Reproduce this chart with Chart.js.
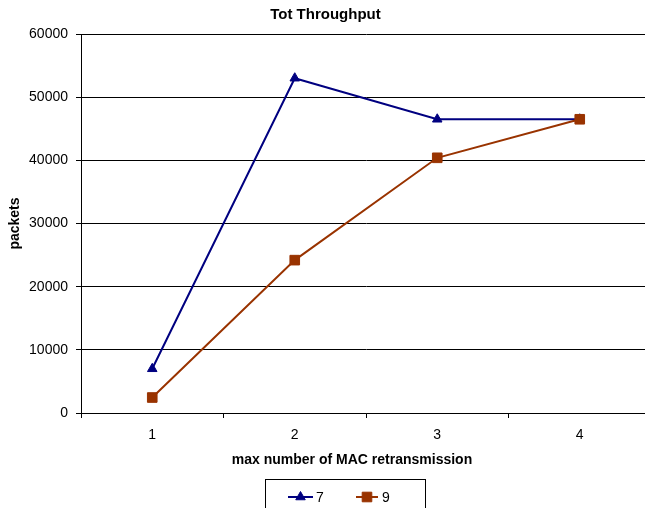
<!DOCTYPE html>
<html><head><meta charset="utf-8">
<script src="https://cdn.jsdelivr.net/npm/chart.js@4/dist/chart.umd.min.js"></script>
<style>
html,body{margin:0;padding:0;overflow:hidden;background:#fff;width:645px;height:508px}
#wrap{position:absolute;left:0;top:0;width:662px;height:508px}
</style>
</head><body><div id="wrap"><canvas id="c" width="662" height="508"></canvas></div>
<script>
const chartTitle = 'Tot Throughput';
const xTitle = 'max number of MAC retransmission';
const yTitle = 'packets';
const categories = ['1', '2', '3', '4'];
const seriesNames = ['7', '9'];
const series7 = [7000, 53000, 46500, 46500];
const series9 = [2450, 24200, 40400, 46500];
const yMin = 0, yMax = 60000, yStep = 10000;

const FONT = "'Liberation Sans', Arial, Helvetica, sans-serif";
Chart.defaults.font.family = FONT;
Chart.defaults.color = '#000';

const customPlugin = {
  id: 'custom',
  afterDraw(chart) {
    const ctx = chart.ctx;
    ctx.save();
    ctx.fillStyle = '#000';
    ctx.font = "bold 14px " + FONT;
    ctx.textAlign = 'center';
    ctx.textBaseline = 'middle';
    ctx.fillText(xTitle, 352, 460);
    ctx.strokeStyle = '#000';
    ctx.lineWidth = 1;
    ctx.strokeRect(265.5, 479.5, 160, 40);
    const items = [{lx: 288, rx: 313, tx: 316}, {lx: 356, rx: 378, tx: 382}];
    chart.data.datasets.forEach((ds, i) => {
      const it = items[i];
      const y = 497;
      ctx.strokeStyle = ds.borderColor;
      ctx.lineWidth = 2;
      ctx.beginPath(); ctx.moveTo(it.lx, y); ctx.lineTo(it.rx, y); ctx.stroke();
      ctx.fillStyle = ds.backgroundColor;
      ctx.strokeStyle = ds.borderColor;
      ctx.lineWidth = 1;
      Chart.helpers.drawPoint(ctx, {pointStyle: ds.pointStyle, radius: ds.pointRadius, borderWidth: 1}, (it.lx + it.rx) / 2, y);
      ctx.fillStyle = '#000';
      ctx.font = "14px " + FONT;
      ctx.textAlign = 'left';
      ctx.fillText(ds.label, it.tx, y + 1);
    });
    ctx.restore();
  }
};

new Chart(document.getElementById('c'), {
  type: 'line',
  data: {
    labels: categories,
    datasets: [
      {label: seriesNames[0], data: series7, borderColor: '#000080', backgroundColor: '#000080', order: 1,
       borderWidth: 2, pointStyle: 'triangle', pointRadius: 5.5, pointBorderWidth: 1, tension: 0},
      {label: seriesNames[1], data: series9, borderColor: '#993300', backgroundColor: '#993300', order: 0,
       borderWidth: 2, pointStyle: 'rect', pointRadius: 6.8, pointBorderWidth: 1, tension: 0}
    ]
  },
  options: {
    responsive: false,
    animation: false,
    layout: {padding: {left: 0, right: 11, top: 0, bottom: 0}},
    plugins: {
      legend: {display: false},
      tooltip: {enabled: false},
      title: {display: true, text: chartTitle, color: '#000', font: {size: 15, weight: 'bold'},
              padding: {top: 6, bottom: 10}}
    },
    scales: {
      x: {
        type: 'category', offset: true,
        grid: {offset: true, drawOnChartArea: false, color: '#000', tickLength: 5},
        border: {color: '#000', width: 1},
        ticks: {font: {size: 14}, color: '#000', padding: 9},
        afterFit(s) { s.height = 95; }
      },
      y: {
        min: yMin, max: yMax,
        grid: {color: '#000', tickLength: 5},
        border: {color: '#000', width: 1},
        ticks: {stepSize: yStep, font: {size: 14}, color: '#000', padding: 8,
                callback: (v) => String(v)},
        title: {display: true, text: yTitle, color: '#000', font: {size: 14, weight: 'bold'}, padding: {top: 7, bottom: 0}},
        afterFit(s) { s.width = 81; }
      }
    }
  },
  plugins: [customPlugin]
});
</script>
</body></html>
